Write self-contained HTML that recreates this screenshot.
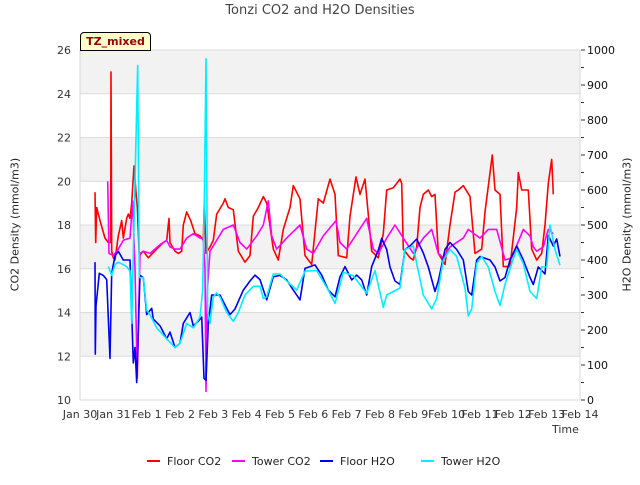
<!DOCTYPE html>
<html><head><meta charset="utf-8"><style>
body{margin:0;background:#fff;font-family:"Liberation Sans","DejaVu Sans",sans-serif;}
svg text{font-family:"DejaVu Sans","Liberation Sans",sans-serif;}
</style></head><body>
<svg id="chart" width="640" height="480" viewBox="0 0 640 480"></svg>
<script>
const xTickLabels=["Jan 30","Jan 31","Feb 1","Feb 2","Feb 3","Feb 4","Feb 5","Feb 6","Feb 7","Feb 8","Feb 9","Feb 10","Feb 11","Feb 12","Feb 13","Feb 14"];
const leftTicks=[10,12,14,16,18,20,22,24,26];
const rightTicks=[0,100,200,300,400,500,600,700,800,900,1000];
const floorCO2T=[0.45,0.47,0.5,0.6,0.75,0.85,0.92,0.93,0.95,1.0,1.05,1.15,1.25,1.3,1.4,1.45,1.5,1.55,1.62,1.68,1.72,1.78,1.9,2.05,2.3,2.5,2.6,2.67,2.7,2.85,2.95,3.05,3.1,3.2,3.32,3.45,3.6,3.7,3.73,3.78,3.9,4.0,4.1,4.3,4.35,4.45,4.6,4.75,4.95,5.1,5.2,5.35,5.5,5.6,5.8,5.95,6.1,6.3,6.4,6.6,6.75,6.95,7.15,7.3,7.5,7.65,7.75,8.0,8.1,8.28,8.4,8.55,8.75,8.95,9.1,9.2,9.4,9.6,9.65,9.7,9.9,10.0,10.1,10.2,10.3,10.45,10.55,10.65,10.75,10.95,11.1,11.25,11.35,11.5,11.7,11.85,12.05,12.15,12.37,12.45,12.6,12.7,12.9,13.1,13.15,13.25,13.45,13.55,13.7,13.85,13.95,14.05,14.15,14.2];
const floorCO2V=[19.5,17.2,18.8,18.2,17.4,17.2,17.2,25.0,16.8,16.5,16.4,17.5,18.2,17.4,18.3,18.5,18.3,19.0,20.7,19.5,18.8,16.6,16.8,16.5,16.9,17.2,17.3,18.3,17.2,16.8,16.7,16.8,18.0,18.6,18.2,17.6,17.5,17.3,19.0,16.7,17.0,17.3,18.5,19.0,19.2,18.8,18.7,16.8,16.3,16.6,18.4,18.8,19.3,19.0,16.9,16.4,17.8,18.8,19.8,19.2,16.6,16.2,19.2,19.0,20.1,19.4,16.6,16.5,18.4,20.2,19.4,20.1,16.8,16.5,17.6,19.6,19.7,20.1,19.9,16.9,16.5,16.4,17.0,18.8,19.4,19.6,19.3,19.4,16.7,16.2,18.0,19.5,19.6,19.8,19.3,16.7,16.9,18.6,21.2,19.6,19.4,16.1,16.1,18.8,20.4,19.6,19.6,16.9,16.4,16.7,18.0,19.9,21.0,19.4];
const towerCO2T=[0.83,0.87,1.0,1.15,1.3,1.5,1.58,1.65,1.72,1.8,1.9,2.1,2.4,2.6,2.7,2.85,3.0,3.2,3.4,3.6,3.7,3.75,3.78,3.82,3.9,4.1,4.3,4.6,4.8,5.0,5.3,5.5,5.65,5.75,5.9,6.2,6.6,6.8,7.0,7.3,7.68,7.8,8.0,8.3,8.6,8.8,8.95,9.2,9.45,9.7,10.0,10.3,10.55,10.75,10.9,11.1,11.5,11.65,12.0,12.25,12.5,12.75,12.95,13.3,13.5,13.6,13.7,13.9,14.05,14.2];
const towerCO2V=[20.0,16.7,16.6,16.9,17.3,17.4,19.1,16.0,11.0,16.7,16.8,16.7,17.1,17.3,17.0,16.9,16.9,17.4,17.6,17.4,17.4,16.0,10.4,15.0,16.8,17.3,17.8,18.0,17.2,16.9,17.5,18.0,19.1,17.5,16.9,17.4,18.0,16.9,16.7,17.5,18.2,17.2,16.9,17.6,18.3,16.9,16.7,17.4,18.0,17.4,16.7,17.4,17.8,16.7,16.5,17.0,17.4,17.8,17.4,17.8,17.8,16.4,16.5,17.8,17.5,17.0,16.8,17.0,17.8,17.6];
const floorH2OT=[0.45,0.46,0.48,0.58,0.7,0.8,0.9,0.95,1.05,1.15,1.3,1.5,1.6,1.65,1.7,1.8,1.9,2.0,2.15,2.2,2.4,2.6,2.7,2.85,3.0,3.1,3.3,3.4,3.55,3.65,3.72,3.78,3.85,3.95,4.2,4.3,4.5,4.65,4.9,5.1,5.25,5.4,5.6,5.8,6.0,6.2,6.4,6.6,6.75,7.05,7.25,7.45,7.65,7.8,7.95,8.15,8.3,8.45,8.6,8.75,8.95,9.05,9.2,9.3,9.45,9.6,9.75,9.9,10.1,10.3,10.45,10.65,10.75,10.95,11.1,11.3,11.5,11.65,11.75,11.9,12.0,12.3,12.45,12.6,12.75,12.9,13.1,13.3,13.5,13.6,13.75,13.95,14.05,14.2,14.3,14.4];
const floorH2OV=[394,131,269,362,356,344,119,362,412,425,400,400,106,150,50,356,350,244,262,231,212,175,194,150,162,219,250,212,225,237,62,56,219,300,300,281,244,260,314,340,357,344,286,352,356,343,314,286,376,386,357,314,295,352,381,343,357,343,300,381,428,462,430,380,340,330,430,440,460,420,380,310,340,430,450,430,400,310,300,400,410,400,380,340,350,400,440,400,350,330,380,360,470,440,460,410];
const towerH2OT=[0.85,0.95,1.05,1.15,1.4,1.5,1.55,1.65,1.73,1.78,1.9,2.0,2.1,2.3,2.6,2.85,3.0,3.2,3.4,3.6,3.68,3.73,3.78,3.83,3.9,4.0,4.1,4.2,4.4,4.6,4.75,4.95,5.2,5.4,5.5,5.6,5.8,6.0,6.2,6.5,6.75,7.1,7.45,7.65,7.9,8.2,8.6,8.85,9.1,9.2,9.4,9.6,9.75,10.0,10.1,10.3,10.55,10.7,10.9,11.1,11.3,11.55,11.65,11.75,11.9,12.05,12.25,12.45,12.6,12.75,12.95,13.1,13.3,13.5,13.7,13.85,14.0,14.1,14.25,14.4];
const towerH2OV=[381,356,387,394,381,369,219,625,956,350,350,256,244,206,175,150,162,219,206,237,313,563,975,250,219,294,306,294,250,225,250,300,325,325,290,295,360,360,340,314,368,370,314,276,365,355,305,370,265,300,310,320,430,440,390,300,260,290,400,430,410,320,240,260,390,410,380,310,270,330,390,430,390,310,290,380,380,500,430,385];

const NS="http://www.w3.org/2000/svg";
const svg=document.getElementById('chart');
const L=80,R=580,T=50,B=400;
const xs=t=>L+(R-L)*t/15;
const yL=v=>B-(B-T)*(v-10)/16;
const yR=v=>B-(B-T)*v/1000;
function mk(tag,attrs,parent){const e=document.createElementNS(NS,tag);for(const k in attrs)e.setAttribute(k,attrs[k]);(parent||svg).appendChild(e);return e;}

// background bands
const plot=mk('g',{});


mk('rect',{x:L,y:T,width:R-L,height:B-T,fill:'#fff'},plot);
for(let i=0;i<leftTicks.length-1;i++){
  if(i%2===1){const r=mk('rect',{x:L,y:yL(leftTicks[i+1]),width:R-L,height:yL(leftTicks[i])-yL(leftTicks[i+1]),fill:'#f2f2f2'},plot);
  
  }
}
leftTicks.forEach(v=>{const g=mk('line',{x1:L,x2:R,y1:yL(v),y2:yL(v),stroke:'#dcdcdc','stroke-width':1},plot);
  
  });
mk('line',{x1:L,x2:L,y1:T,y2:B,stroke:'#d8d8d8'},plot);
mk('line',{x1:R,x2:R,y1:T,y2:B,stroke:'#d8d8d8'},plot);
mk('line',{x1:L,x2:R,y1:B,y2:B,stroke:'#d8d8d8'},plot);

// axes labels
leftTicks.forEach(v=>{const t=mk('text',{x:71,y:yL(v)+4,'text-anchor':'end','font-size':11,fill:'#333'});t.textContent=v;
  
  });
rightTicks.forEach(v=>{const t=mk('text',{x:587,y:yR(v)+4,'font-size':11,fill:'#111'});t.textContent=v;
  
  
  mk('line',{x1:R+1,x2:R+5,y1:yR(v),y2:yR(v),stroke:'#333'});
  if(v<1000)mk('line',{x1:R+1,x2:R+4,y1:yR(v+50),y2:yR(v+50),stroke:'#333'});});
xTickLabels.forEach((s,i)=>{const t=mk('text',{x:xs(i),y:418,'text-anchor':'middle','font-size':11,fill:'#333'});t.textContent=s;
  
  });

// series
function series(T_,V_,f,color,name){
  const d=T_.map((t,i)=>(i?'L':'M')+xs(t).toFixed(1)+','+f(V_[i]).toFixed(1)).join('');
  const p=mk('path',{d:d,fill:'none',stroke:color,'stroke-width':1.6,'stroke-linejoin':'round'});
  
  
}
series(floorCO2T,floorCO2V,yL,'#ff0000','floor-co2-line');
series(towerCO2T,towerCO2V,yL,'#ff00ff','tower-co2-line');
series(floorH2OT,floorH2OV,yR,'#0000ee','floor-h2o-line');
series(towerH2OT,towerH2OV,yR,'#00eeff','tower-h2o-line');

// legend
const items=[['#ff0000','Floor CO2',147],['#ff00ff','Tower CO2',232],['#0000ee','Floor H2O',320],['#00eeff','Tower H2O',421]];
items.forEach(it=>{const g=mk('g',{});
  
  
  mk('line',{x1:it[2],x2:it[2]+13,y1:461,y2:461,stroke:it[0],'stroke-width':2},g);
  const t=mk('text',{x:it[2]+20,y:465,'font-size':11,fill:'#222'},g);t.textContent=it[1];});
</script>
<div style="position:absolute;left:0;top:0;width:640px;height:480px;pointer-events:none">
<div style="position:absolute;left:0;width:640px;top:3px;text-align:center;font:13px 'DejaVu Sans','Liberation Sans',sans-serif;color:#444">Tonzi CO2 and H2O Densities</div>
<div style="position:absolute;left:-60px;top:218px;width:150px;text-align:center;transform:rotate(-90deg);font:11px 'DejaVu Sans','Liberation Sans',sans-serif;color:#222">CO2 Density (mmol/m3)</div>
<div style="position:absolute;left:552px;top:218px;width:150px;text-align:center;transform:rotate(-90deg);font:11px 'DejaVu Sans','Liberation Sans',sans-serif;color:#222">H2O Density (mmol/m3)</div>
<div style="position:absolute;left:552px;top:423px;font:11px 'DejaVu Sans','Liberation Sans',sans-serif;color:#333">Time</div>
<div style="position:absolute;left:80px;top:32px;width:69px;height:17px;background:#ffffcc;border:1px solid #000;border-radius:4px 4px 0 0;font:bold 11px 'DejaVu Sans','Liberation Sans',sans-serif;color:#990000;text-align:center;line-height:17px">TZ_mixed</div>
</div>
</body></html>
